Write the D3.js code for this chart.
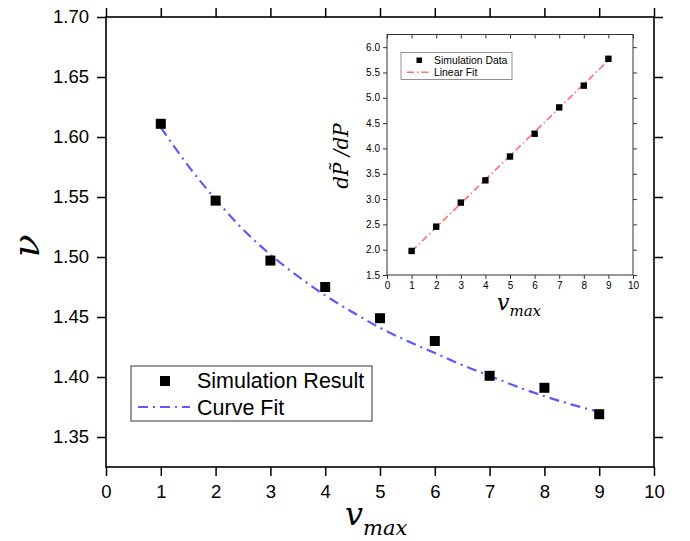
<!DOCTYPE html>
<html>
<head>
<meta charset="utf-8">
<script src="https://cdn.jsdelivr.net/npm/d3@7"></script>
<style>
  body { margin: 0; background: #fff; }
  .tick text { font-family: "Liberation Sans", Arial, sans-serif; fill: #000; }
  .math { font-family: "DejaVu Serif", serif; font-style: italic; fill: #000; }
</style>
</head>
<body>
<div id="chart-area"></div>
<script>
// dados - grafico principal
const vMax = [1, 2, 3, 4, 5, 6, 7, 8, 9]
const nuSim = [1.611, 1.547, 1.497, 1.475, 1.449, 1.430, 1.401, 1.391, 1.369]
const fitX = [1, 1.5, 2, 2.5, 3, 3.5, 4, 4.5, 5, 5.5, 6, 6.5, 7, 7.5, 8, 8.5, 9]
const nuFit = [1.608, 1.576, 1.548, 1.523, 1.502, 1.484, 1.468, 1.454, 1.441, 1.430, 1.420, 1.410, 1.401, 1.392, 1.384, 1.377, 1.371]
const mainXTicks = [0, 1, 2, 3, 4, 5, 6, 7, 8, 9, 10]
const mainYTicks = [1.35, 1.40, 1.45, 1.50, 1.55, 1.60, 1.65, 1.70]

// dados - grafico interno
const slopeSim = [1.975, 2.455, 2.93, 3.37, 3.84, 4.29, 4.81, 5.24, 5.77]
const linFitX = [1, 9]
const linFitY = [1.97, 5.74]
const insetXTicks = [0, 1, 2, 3, 4, 5, 6, 7, 8, 9, 10]
const insetYTicks = [1.5, 2.0, 2.5, 3.0, 3.5, 4.0, 4.5, 5.0, 5.5, 6.0]

const W = 690, H = 541

const svg = d3.select("#chart-area").append("svg")
  .attr("width", W)
  .attr("height", H)

// escalas principais
const x = d3.scaleLinear().domain([0, 10]).range([106, 654])
const y = d3.scaleLinear().domain([1.325, 1.70]).range([467, 17])

// eixos principais
svg.append("g")
  .attr("transform", "translate(106,0)")
  .call(d3.axisLeft(y).tickValues(mainYTicks).tickFormat(d3.format(".2f")).tickSize(9).tickPadding(8).tickSizeOuter(0))
  .call(g => g.selectAll("text").attr("font-size", 18.5))
svg.append("g")
  .attr("transform", "translate(0,467)")
  .call(d3.axisBottom(x).tickValues(mainXTicks).tickSize(9).tickPadding(9).tickSizeOuter(0))
  .call(g => g.selectAll("text").attr("font-size", 18.5))
svg.append("g")
  .attr("transform", "translate(0,17)")
  .call(d3.axisTop(x).tickValues(mainXTicks).tickSize(9).tickFormat("").tickSizeOuter(0))
svg.append("g")
  .attr("transform", "translate(654,0)")
  .call(d3.axisRight(y).tickValues(mainYTicks).tickSize(9).tickFormat("").tickSizeOuter(0))
svg.selectAll(".domain").remove()
svg.selectAll(".tick line").attr("stroke", "#000").attr("stroke-width", 1.5)

svg.append("rect")
  .attr("x", 106).attr("y", 17)
  .attr("width", 654 - 106).attr("height", 467 - 17)
  .attr("fill", "none").attr("stroke", "#000").attr("stroke-width", 1.6)

// curva ajustada
const fitLine = d3.line().x((d, i) => x(fitX[i])).y(d => y(d)).curve(d3.curveMonotoneX)
svg.append("path")
  .attr("d", fitLine(nuFit))
  .attr("fill", "none")
  .attr("stroke", "#5a5aff")
  .attr("stroke-width", 2.2)
  .attr("stroke-dasharray", "10,5,2,5")

// pontos simulados
svg.selectAll(".sim")
  .data(nuSim)
  .enter().append("rect")
  .attr("class", "sim")
  .attr("x", (d, i) => x(vMax[i]) - 5)
  .attr("y", d => y(d) - 5)
  .attr("width", 10).attr("height", 10)
  .attr("fill", "#000")

// legenda principal
svg.append("rect")
  .attr("x", 131).attr("y", 366).attr("width", 241).attr("height", 55)
  .attr("fill", "#fff").attr("stroke", "#555").attr("stroke-width", 1.2)
svg.append("rect")
  .attr("x", 160).attr("y", 376).attr("width", 10).attr("height", 10).attr("fill", "#000")
svg.append("line")
  .attr("x1", 138).attr("x2", 190).attr("y1", 407).attr("y2", 407)
  .attr("stroke", "#5a5aff").attr("stroke-width", 2).attr("stroke-dasharray", "10,5,2,5")
svg.append("text")
  .attr("x", 197).attr("y", 388)
  .attr("font-family", "Liberation Sans, Arial, sans-serif").attr("font-size", 21.5)
  .text("Simulation Result")
svg.append("text")
  .attr("x", 197).attr("y", 415)
  .attr("font-family", "Liberation Sans, Arial, sans-serif").attr("font-size", 21.5)
  .text("Curve Fit")

// rotulos principais
const xl = svg.append("text").attr("class", "math").attr("x", 345).attr("y", 525)
xl.append("tspan").attr("font-size", 32).text("v")
xl.append("tspan").attr("font-size", 21).attr("dy", 10).text("max")

svg.append("text")
  .attr("class", "math")
  .attr("transform", "translate(39,246) rotate(-90)")
  .attr("text-anchor", "middle")
  .attr("font-size", 38)
  .text("ν")

// grafico interno
const xi = d3.scaleLinear().domain([0, 10]).range([387, 633])
const yi = d3.scaleLinear().domain([1.5, 6.25]).range([275, 34.5])

const inset = svg.append("g")
inset.append("g")
  .attr("transform", "translate(387,0)")
  .call(d3.axisLeft(yi).tickValues(insetYTicks).tickFormat(d3.format(".1f")).tickSize(4).tickPadding(3).tickSizeOuter(0))
  .call(g => g.selectAll("text").attr("font-size", 10))
inset.append("g")
  .attr("transform", "translate(0,275)")
  .call(d3.axisBottom(xi).tickValues(insetXTicks).tickSize(4).tickPadding(3).tickSizeOuter(0))
  .call(g => g.selectAll("text").attr("font-size", 10))
inset.append("g")
  .attr("transform", "translate(0,34.5)")
  .call(d3.axisBottom(xi).tickValues(insetXTicks).tickSize(4).tickFormat("").tickSizeOuter(0))
inset.append("g")
  .attr("transform", "translate(633,0)")
  .call(d3.axisRight(yi).tickValues(insetYTicks).tickSize(4).tickFormat("").tickSizeOuter(0))
inset.selectAll(".domain").remove()
inset.selectAll(".tick line").attr("stroke", "#333").attr("stroke-width", 1)

inset.append("rect")
  .attr("x", 387).attr("y", 34.5)
  .attr("width", 633 - 387).attr("height", 275 - 34.5)
  .attr("fill", "none").attr("stroke", "#333").attr("stroke-width", 1)

const linLine = d3.line().x((d, i) => xi(linFitX[i])).y(d => yi(d))
inset.append("path")
  .attr("d", linLine(linFitY))
  .attr("fill", "none")
  .attr("stroke", "#ff6f6f")
  .attr("stroke-width", 1.6)
  .attr("stroke-dasharray", "7,3,1.5,3")

inset.selectAll(".simi")
  .data(slopeSim)
  .enter().append("rect")
  .attr("class", "simi")
  .attr("x", (d, i) => xi(vMax[i]) - 3.2)
  .attr("y", d => yi(d) - 3.2)
  .attr("width", 6.4).attr("height", 6.4)
  .attr("fill", "#000")

// legenda interna
inset.append("rect")
  .attr("x", 401).attr("y", 52.5).attr("width", 111).attr("height", 27)
  .attr("fill", "#fff").attr("stroke", "#777").attr("stroke-width", 0.8)
inset.append("rect")
  .attr("x", 416.5).attr("y", 57.5).attr("width", 5.5).attr("height", 5.5).attr("fill", "#000")
inset.append("line")
  .attr("x1", 407).attr("x2", 430).attr("y1", 72.3).attr("y2", 72.3)
  .attr("stroke", "#ff6f6f").attr("stroke-width", 1.6).attr("stroke-dasharray", "7,3,1.5,3")
inset.append("text")
  .attr("x", 434).attr("y", 64)
  .attr("font-family", "Liberation Sans, Arial, sans-serif").attr("font-size", 10.4)
  .text("Simulation Data")
inset.append("text")
  .attr("x", 434).attr("y", 76)
  .attr("font-family", "Liberation Sans, Arial, sans-serif").attr("font-size", 10.4)
  .text("Linear Fit")

// rotulos internos
const xil = inset.append("text").attr("class", "math").attr("x", 497).attr("y", 310)
xil.append("tspan").attr("font-size", 22).text("v")
xil.append("tspan").attr("font-size", 15).attr("dy", 6).text("max")

inset.append("text")
  .attr("class", "math")
  .attr("transform", "translate(348,156) rotate(-90)")
  .attr("text-anchor", "middle")
  .attr("font-size", 20)
  .text("dP\u0303 /dP")
</script>
</body>
</html>
